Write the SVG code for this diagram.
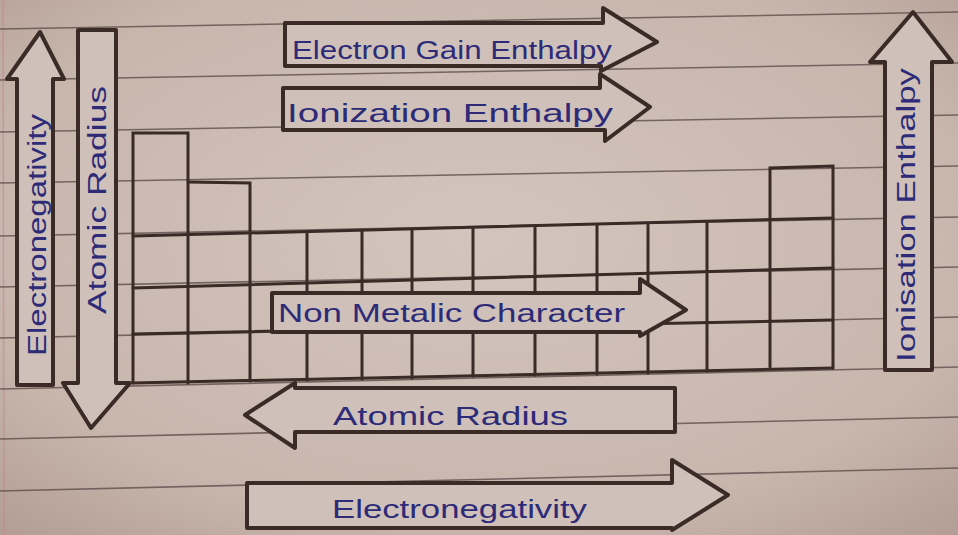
<svg xmlns="http://www.w3.org/2000/svg" width="958" height="535" viewBox="0 0 958 535">
<defs>
<radialGradient id="paper" cx="0.5" cy="0.45" r="0.75">
<stop offset="0" stop-color="#d3c5bd"/>
<stop offset="0.7" stop-color="#c8b6ad"/>
<stop offset="1" stop-color="#b29c93"/>
</radialGradient>
<style>
.rule{stroke:#5e4e4b;stroke-width:1.6;fill:none;opacity:0.8}
.pen{stroke:#3a2b27;stroke-width:3;fill:none;stroke-linecap:round}
.arrow{stroke:#3a2b27;stroke-width:4;fill:#cfc1b9;stroke-linejoin:round}
.lbl{font-family:"Liberation Sans","DejaVu Sans",sans-serif;fill:#2d2b78;font-size:26px}
</style>
</defs>
<rect width="958" height="535" fill="url(#paper)"/>
<line x1="3" y1="0" x2="4" y2="535" stroke="#c08a8e" stroke-width="1.5" opacity="0.6"/>
<g id="ruled-lines">
<line class="rule" x1="0" y1="29" x2="958" y2="12"/>
<line class="rule" x1="0" y1="80" x2="958" y2="63"/>
<line class="rule" x1="0" y1="132" x2="958" y2="115"/>
<line class="rule" x1="0" y1="183" x2="958" y2="166"/>
<line class="rule" x1="0" y1="236" x2="958" y2="217"/>
<line class="rule" x1="0" y1="287" x2="958" y2="267"/>
<line class="rule" x1="0" y1="338" x2="958" y2="317"/>
<line class="rule" x1="0" y1="389" x2="958" y2="367"/>
<line class="rule" x1="0" y1="439" x2="958" y2="417"/>
<line class="rule" x1="0" y1="491" x2="958" y2="468"/>
</g>
<g id="table">
<polyline class="pen" points="133,383 133,133 188,133 188,383"/>
<polyline class="pen" points="188,182 250,183 250,381"/>
<polyline class="pen" points="770,367 770,168 833,166 833,368"/>
<line class="pen" x1="133" y1="236" x2="833" y2="218" stroke-width="3.6"/>
<line class="pen" x1="133" y1="288" x2="833" y2="268"/>
<line class="pen" x1="133" y1="334" x2="833" y2="320"/>
<line class="pen" x1="133" y1="383" x2="833" y2="368" stroke-width="3.6"/>
<line class="pen" x1="307" y1="232" x2="307" y2="380"/>
<line class="pen" x1="362" y1="231" x2="362" y2="379"/>
<line class="pen" x1="412" y1="230" x2="412" y2="378"/>
<line class="pen" x1="473" y1="228" x2="473" y2="376"/>
<line class="pen" x1="535" y1="226" x2="535" y2="375"/>
<line class="pen" x1="597" y1="225" x2="597" y2="374"/>
<line class="pen" x1="648" y1="223" x2="648" y2="373"/>
<line class="pen" x1="707" y1="222" x2="707" y2="371"/>
</g>
<g id="electronegativity-vertical">
<polygon class="arrow" points="17,385 17,79 7,79 40,32 64,79 53,79 53,385"/>
<text class="lbl" transform="translate(46,356) rotate(-90)" textLength="242" lengthAdjust="spacingAndGlyphs">Electronegativity</text>
</g>
<g id="atomic-radius-vertical">
<polygon class="arrow" points="78,30 116,30 116,383 130,383 91,428 63,383 78,383"/>
<text class="lbl" transform="translate(106,314) rotate(-90)" textLength="228" lengthAdjust="spacingAndGlyphs">Atomic Radius</text>
</g>
<g id="electron-gain-enthalpy">
<polygon class="arrow" points="285,23 603,23 603,8 657,42 601,71 601,66 285,66"/>
<text class="lbl" x="292" y="59" textLength="320" lengthAdjust="spacingAndGlyphs">Electron Gain Enthalpy</text>
</g>
<g id="ionization-enthalpy">
<polygon class="arrow" points="283,88 600,88 600,74 650,107 605,141 605,130 283,130"/>
<text class="lbl" x="287" y="122" textLength="326" lengthAdjust="spacingAndGlyphs">Ionization Enthalpy</text>
</g>
<g id="non-metallic-character">
<polygon class="arrow" points="272,293 640,293 640,279 686,310 640,336 640,332 272,332"/>
<text class="lbl" x="278" y="322" font-size="23" textLength="347" lengthAdjust="spacingAndGlyphs">Non Metalic Character</text>
</g>
<g id="atomic-radius-horizontal">
<polygon class="arrow" points="675,388 295,388 295,383 245,415 295,448 295,432 675,432"/>
<text class="lbl" x="333" y="425" textLength="235" lengthAdjust="spacingAndGlyphs">Atomic Radius</text>
</g>
<g id="electronegativity-horizontal">
<polygon class="arrow" points="247,483 672,483 672,460 728,495 672,530 672,528 247,528"/>
<text class="lbl" x="332" y="518" textLength="255" lengthAdjust="spacingAndGlyphs">Electronegativity</text>
</g>
<g id="ionisation-enthalpy-vertical">
<polygon class="arrow" points="885,370 885,62 870,62 913,12 952,62 932,62 932,370"/>
<text class="lbl" transform="translate(915,362) rotate(-90)" textLength="294" lengthAdjust="spacingAndGlyphs">Ionisation Enthalpy</text>
</g>
<g id="connectors"></g>
</svg>
